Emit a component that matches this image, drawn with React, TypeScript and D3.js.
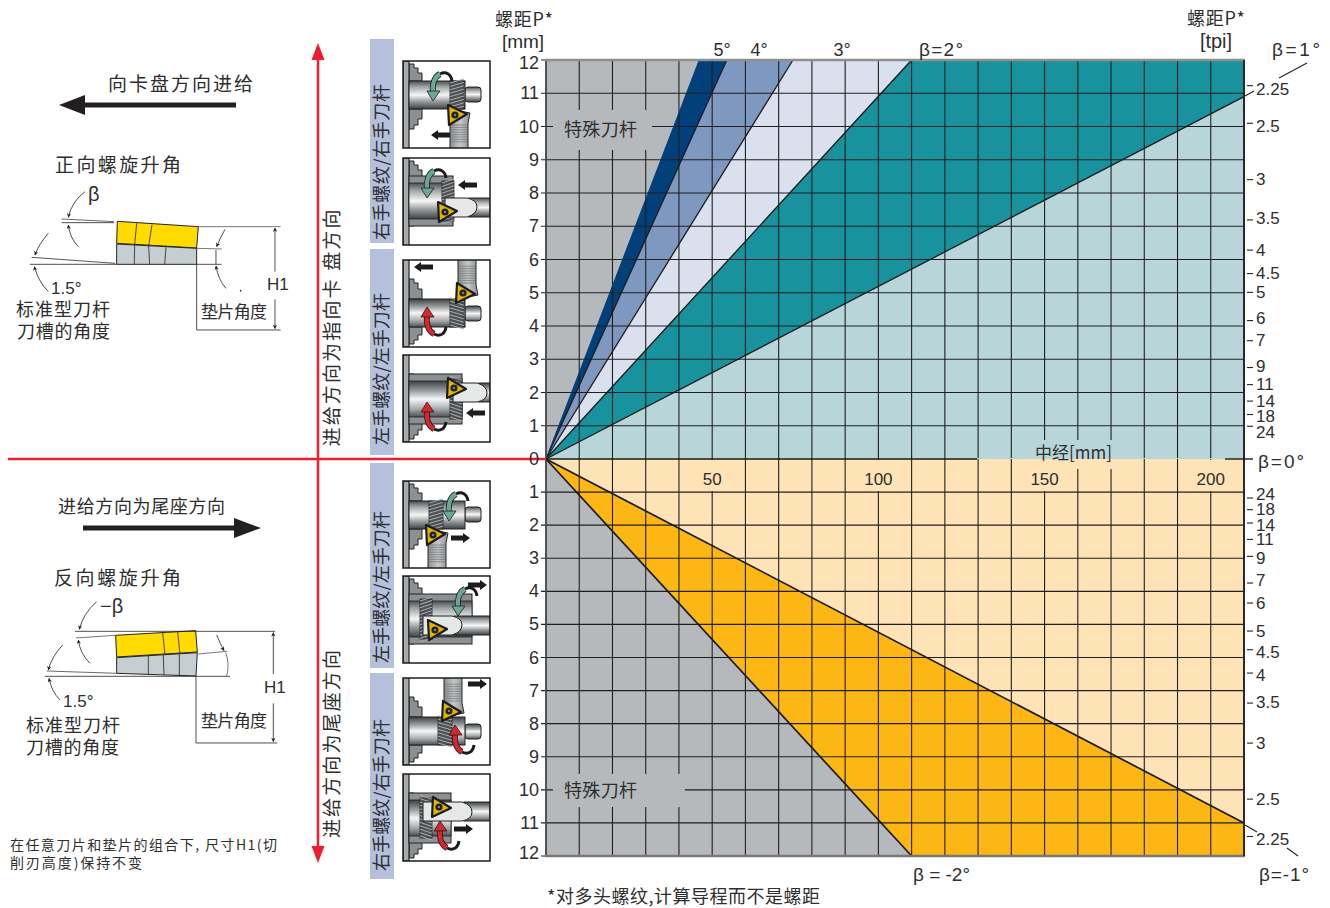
import React from "react";
import * as d3 from "d3";

// chart values
const pitchMm = [1, 2, 3, 4, 5, 6, 7, 8, 9, 10, 11, 12];
const pitchZero = 0;
const diameters = [0, 10, 20, 30, 40, 50, 60, 70, 80, 90, 100, 110, 120, 130, 140, 150, 160, 170, 180, 190, 200, 210];
const diameterLabels = [50, 100, 150, 200];
const tpiValues = [2.25, 2.5, 3, 3.5, 4, 4.5, 5, 6, 7, 9, 11, 14, 18, 24];
const topPitch = 12;
const maxDiameter = 210;
// diameter where each beta boundary reaches the 12 mm pitch
const bandBoundaries = [46.1, 54.4, 74.3, 110];
const bandColors = ["#01407a", "#7f98bf", "#dbe0ee"];
const betaOnePitchUp = 10.9;
const betaMinusTwoDiameter = 110;
const betaMinusOnePitch = 11;
const upperAngleLabels = ["5°", "4°", "3°"];
const sideLabels = ["右手螺纹/右手刀杆", "左手螺纹/左手刀杆", "左手螺纹/左手刀杆", "右手螺纹/右手刀杆"];

const x = d3.scaleLinear().domain([0, 210]).range([546, 1244]);
const yUp = d3.scaleLinear().domain([0, 12]).range([459, 60]);
const yDown = d3.scaleLinear().domain([0, 12]).range([459, 856]);
const tpiUp = d3.scaleLinear().domain([0, 12]).range([461.5, 62]);
const tpiDown = d3.scaleLinear().domain([0, 12]).range([463, 860]);
// labels sit a little off their ticks where they would crowd
const nudgeUp: Record<number, number> = { 24: 6, 18: 2, 9: -1, 6: -2, 3.5: -1, 2.5: 3, 2.25: 4 };
const nudgeDown: Record<number, number> = { 24: -4, 14: 2, 9: 2, 7: -3, 4.5: 3, 4: 2, 3.5: -1, 2.25: 3 };

const CJK = "'Noto Sans CJK SC', 'Liberation Sans', sans-serif";
const LAT = "'Liberation Sans', Arial, sans-serif";
const INK = "#2e2e2e";

type Pt = [number, number];
const upLine = d3.line<Pt>().x((d) => x(d[0])).y((d) => yUp(d[1]));
const downLine = d3.line<Pt>().x((d) => x(d[0])).y((d) => yDown(d[1]));

const T = ({ x: tx, y, s = 18, w, a = "start", f = CJK, rot, children, fill = INK }: any) => (
  <text
    x={tx}
    y={y}
    dy={f === CJK ? -1.8 : 0}
    fontSize={s}
    fontFamily={f}
    fill={fill}
    textAnchor={a}
    dominantBaseline="central"
    textLength={w}
    lengthAdjust={w ? "spacing" : undefined}
    transform={rot ? `rotate(${rot} ${tx} ${y})` : undefined}
  >
    {children}
  </text>
);

const FeedArrow = ({ x0, y0, dir }: { x0: number; y0: number; dir: number }) => {
  // x0 = left end of the arrow in box coords, 19 long
  const pts =
    dir > 0
      ? `${x0},${y0 - 2.5} ${x0 + 12},${y0 - 2.5} ${x0 + 12},${y0 - 5} ${x0 + 19},${y0} ${x0 + 12},${y0 + 5} ${x0 + 12},${y0 + 2.5} ${x0},${y0 + 2.5}`
      : `${x0 + 19},${y0 - 2.5} ${x0 + 7},${y0 - 2.5} ${x0 + 7},${y0 - 5} ${x0},${y0} ${x0 + 7},${y0 + 5} ${x0 + 7},${y0 + 2.5} ${x0 + 19},${y0 + 2.5}`;
  return <polygon points={pts} fill="#1c1c1c" />;
};

const Thread = ({ tx, y0, y1, w = 14 }: any) => {
  const rows = d3.range(y0 + 2, y1 + 3, 3.4);
  return (
    <g>
      <rect x={tx} y={y0} width={w} height={y1 - y0} fill="#4f5254" stroke="#222" strokeWidth={0.8} />
      {rows.map((r) => (
        <line key={r} x1={tx} y1={r} x2={tx + w} y2={r - 4} stroke="#a9acae" strokeWidth={1} />
      ))}
    </g>
  );
};

const Insert = ({ ix, iy }: { ix: number; iy: number }) => (
  <g transform={`translate(${ix} ${iy})`}>
    <polygon points="-8,-10 11,-1 -7,10" fill="#e3b400" stroke="#1c1c1c" strokeWidth={2.2} strokeLinejoin="round" />
    <circle cx={-1} cy={0} r={3.6} fill="#222" />
    <circle cx={-1} cy={0} r={1.1} fill="#999" />
  </g>
);

const RotArrow = ({ rx, color }: { rx: number; color: string }) => (
  <g transform={`translate(${rx} 0)`}>
    <path d="M5 13 C11 10 16 13 17 20" fill="none" stroke="#1c1c1c" strokeWidth={3} />
    <path d="M5 13 C-1 16 -3 24 -2 32" fill="none" stroke="#1c1c1c" strokeWidth={6} />
    <path d="M5 13 C-1 16 -3 24 -2 32" fill="none" stroke={color} strokeWidth={4.4} />
    <polygon points="-8,30 5,30 -2,40" fill={color} stroke="#1c1c1c" strokeWidth={0.8} />
  </g>
);

const Chuck = () => (
  <g>
    <polygon
      points="6,3 11,3 11,7 15,7 15,12 19,12 19,20 6,20"
      fill="#8d9092"
      stroke="#222"
      strokeWidth={1}
    />
    <polygon
      points="6,68 11,68 11,64 15,64 15,58 19,58 19,48 6,48"
      fill="#8d9092"
      stroke="#222"
      strokeWidth={1}
    />
    <rect x={0} y={0} width={6} height={90} fill="#a8abad" stroke="#222" strokeWidth={1.2} />
  </g>
);

const External = ({ tx, ix, rot, rx }: any) => {
  const rows = d3.range(64, 82, 2.4);
  return (
    <g>
      <Chuck />
      <polygon points={`${ix - 6},48 ${ix + 14},52 ${ix + 12},62 ${ix + 12},90 ${ix - 6},90`} fill="url(#hatch)" stroke="#222" strokeWidth={1} />
      {rows.map((r) => (
        <line key={r} x1={ix - 5} x2={ix + 11} y1={r} y2={r} stroke="#6f7274" strokeWidth={0.7} />
      ))}
      <rect x={62} y={26} width={16} height={15} rx={3} fill="url(#steel)" stroke="#222" />
      <rect x={6} y={20} width={56} height={28} fill="url(#steel)" stroke="#222" strokeWidth={1} />
      <Thread tx={tx} y0={20} y1={48} />
      <Insert ix={ix} iy={54} />
      <RotArrow rx={rx} color={rot} />
    </g>
  );
};

const Internal = ({ tx, ix, hr, be, rot, rx }: any) => (
  <g>
    <Chuck />
    <rect x={6} y={18} width={hr - 6} height={50} fill="#8d9092" stroke="#222" strokeWidth={1} />
    <rect x={6} y={25} width={hr - 6} height={36} fill="url(#steel)" stroke="#222" strokeWidth={0.8} />
    <Thread tx={tx} y0={23} y1={63} w={12} />
    <rect x={be - 8} y={40} width={95 - be} height={19} fill="url(#steel)" stroke="#222" strokeWidth={1} />
    <path d={`M${tx + 3} 40 L${be - 10} 40 Q${be} 42 ${be} 49 Q${be} 56 ${be - 10} 59 L${tx + 3} 59 Z`} fill="#e6e7e7" stroke="#222" strokeWidth={1} />
    <Insert ix={ix} iy={54} />
    <RotArrow rx={rx} color={rot} />
  </g>
);

const GREEN = "#6aa893";
const RED = "#d9252c";
const toolBoxes = [
  { bx: 403, by: 61, kind: "ext", flip: false, tx: 47, ix: 53, rot: GREEN, rx: 32, fx: 28, fy: 74, dir: -1 },
  { bx: 403, by: 158, kind: "int", flip: false, tx: 39, ix: 43, hr: 50, be: 74, rot: GREEN, rx: 26, fx: 55, fy: 27, dir: -1 },
  { bx: 403, by: 260, kind: "ext", flip: true, tx: 47, ix: 61, rot: RED, rx: 26, fx: 11, fy: 7, dir: -1 },
  { bx: 403, by: 355, kind: "int", flip: true, tx: 47, ix: 52, hr: 59, be: 84, rot: RED, rx: 26, fx: 63, fy: 58, dir: -1 },
  { bx: 403, by: 481, kind: "ext", flip: false, tx: 26, ix: 31, rot: GREEN, rx: 48, fx: 48, fy: 57, dir: 1 },
  { bx: 403, by: 576, kind: "int", flip: false, tx: 17, ix: 33, hr: 69, be: 59, rot: GREEN, rx: 57, fx: 65, fy: 9, dir: 1 },
  { bx: 403, by: 678, kind: "ext", flip: true, tx: 35, ix: 47, rot: RED, rx: 54, fx: 65, fy: 6, dir: 1 },
  { bx: 403, by: 774, kind: "int", flip: true, tx: 17, ix: 37, hr: 48, be: 69, rot: RED, rx: 39, fx: 51, fy: 55, dir: 1 },
];

const ToolIcon = ({ b }: any) => (
  <g>
    <svg x={b.bx} y={b.by} width={87} height={87} viewBox="0 0 87 87">
      <rect width={87} height={87} fill="#fff" />
      <g transform={b.flip ? "translate(0 87) scale(1 -1)" : undefined}>
        {b.kind === "ext" ? <External {...b} /> : <Internal {...b} />}
      </g>
      <FeedArrow x0={b.fx} y0={b.fy} dir={b.dir} />
    </svg>
    <rect x={b.bx} y={b.by} width={87} height={87} fill="none" stroke="#1c1c1c" strokeWidth={1.5} />
  </g>
);

const Arrowed = ({ d, sw = 2.4 }: { d: string; sw?: number }) => (
  <path d={d} fill="none" stroke="#222" strokeWidth={sw} markerEnd="url(#head)" />
);
const L = ({ p, sw = 2.4, c = "#222" }: { p: string; sw?: number; c?: string }) => (
  <polyline points={p} fill="none" stroke={c} strokeWidth={sw} />
);

// insert sketches are drawn in 3x units and scaled down
const PositiveSketch = () => (
  <g transform="translate(0 140) scale(0.3333)">
    <polygon points="352,244 595,260 590,324 350,310" fill="#ffdb00" stroke="#222" strokeWidth={3} />
    <polygon points="350,312 590,325 590,373 350,373" fill="#c4ced3" stroke="#222" strokeWidth={3} />
    <L p="410,250 404,314" />
    <L p="456,254 446,318" />
    <L p="404,314 403,373" />
    <L p="446,318 449,373" />
    <L p="498,322 494,373" />
    <L p="185,237 342,245" c="#666" sw={3} />
    <L p="185,248 342,248" />
    <L p="95,352 345,370" c="#555" sw={3} />
    <L p="90,373 350,373" />
    <L p="595,260 842,260" c="#555" />
    <L p="590,325 665,327" c="#555" />
    <L p="590,373 665,373" />
    <L p="590,373 590,570 842,570" />
    <Arrowed d="M255 155 Q215 185 205 232" />
    <Arrowed d="M235 320 Q210 295 205 255" />
    <Arrowed d="M145 280 Q115 315 105 345" />
    <Arrowed d="M145 455 Q115 425 103 380" />
    <Arrowed d="M825 395 L825 264" />
    <Arrowed d="M825 478 L825 566" />
    <Arrowed d="M675 268 Q660 295 650 320" />
    <L p="648,330 648,372" />
    <Arrowed d="M678 445 Q655 420 648 378" />
    <circle cx={722} cy={452} r={2.5} fill="#222" />
  </g>
);

const NegativeSketch = () => (
  <g transform="translate(0 560) scale(0.3333)">
    <polygon points="347,226 587,212 592,276 350,291" fill="#ffdb00" stroke="#222" strokeWidth={3} />
    <polygon points="350,293 592,278 588,348 350,340" fill="#c4ced3" stroke="#222" strokeWidth={3} />
    <L p="488,218 495,283" />
    <L p="533,215 540,281" />
    <L p="445,288 445,343" />
    <L p="490,285 492,345" />
    <L p="538,282 538,347" />
    <L p="225,214 825,214" />
    <L p="228,234 345,226" c="#555" />
    <L p="140,333 350,340" c="#444" />
    <L p="135,349 690,349" />
    <L p="595,282 682,274" c="#555" />
    <L p="588,349 588,549 832,549" />
    <Arrowed d="M290 125 Q250 160 238 208" />
    <Arrowed d="M270 310 Q240 280 235 240" />
    <Arrowed d="M188 255 Q155 290 145 330" />
    <Arrowed d="M180 420 Q155 395 147 355" />
    <Arrowed d="M820 342 L820 218" />
    <Arrowed d="M820 430 L820 545" />
    <Arrowed d="M650 225 Q660 250 672 272" />
    <path d="M677 278 Q690 310 680 348" fill="none" stroke="#555" strokeWidth={2.4} />
  </g>
);

export default function App() {
  const apex: Pt = [0, 0];
  const bands = bandColors.map((c, i) => ({
    c,
    pts: [apex, [bandBoundaries[i], topPitch], [bandBoundaries[i + 1], topPitch]] as Pt[],
  }));
  const beta2 = bandBoundaries[3];
  return (
    <svg
      width={1330}
      height={908}
      viewBox="0 0 1330 908"
      style={{ position: "absolute", left: 0, top: 0, display: "block", background: "#fff" }}
    >
      <defs>
        <linearGradient id="steel" x1="0" y1="0" x2="0" y2="1">
          <stop offset="0" stopColor="#4c4f51" />
          <stop offset="0.22" stopColor="#a5a8aa" />
          <stop offset="0.5" stopColor="#f6f6f6" />
          <stop offset="0.72" stopColor="#9da0a2" />
          <stop offset="1" stopColor="#3d4042" />
        </linearGradient>
        <linearGradient id="hatch" x1="0" y1="0" x2="1" y2="0">
          <stop offset="0" stopColor="#8e9193" />
          <stop offset="0.5" stopColor="#c6c9ca" />
          <stop offset="1" stopColor="#8e9193" />
        </linearGradient>
        <marker id="head" viewBox="0 0 10 10" refX="9" refY="5" markerWidth="5.5" markerHeight="5.5" orient="auto">
          <polygon points="0,0 10,5 0,10 3,5" fill="#222" />
        </marker>
      </defs>

      {/* upper half */}
      <rect x={x(0)} y={yUp(12)} width={x(210) - x(0)} height={yUp(0) - yUp(12)} fill="#b8d6da" />
      <path d={upLine([apex, [0, topPitch], [bandBoundaries[0], topPitch]] as Pt[]) + "Z"} fill="#b6b9bc" />
      {bands.map((b) => (
        <path key={b.c} d={upLine(b.pts) + "Z"} fill={b.c} />
      ))}
      <path
        d={upLine([apex, [beta2, topPitch], [maxDiameter, topPitch], [maxDiameter, betaOnePitchUp]] as Pt[]) + "Z"}
        fill="#18939d"
      />

      {/* lower half */}
      <rect x={x(0)} y={yDown(0)} width={x(210) - x(0)} height={yDown(12) - yDown(0)} fill="#fee3b6" />
      <path
        d={downLine([apex, [betaMinusTwoDiameter, topPitch], [maxDiameter, topPitch], [maxDiameter, betaMinusOnePitch]] as Pt[]) + "Z"}
        fill="#fdb714"
      />
      <path d={downLine([apex, [betaMinusTwoDiameter, topPitch], [0, topPitch]] as Pt[]) + "Z"} fill="#b6b9bc" />

      {/* grid */}
      {diameters.map((d) => (
        <line key={d} x1={x(d)} x2={x(d)} y1={yUp(12)} y2={yDown(12)} stroke="#1f1f1f" strokeWidth={1.1} />
      ))}
      {pitchMm.map((p) => (
        <g key={p}>
          <line x1={x(0) - 5} x2={x(210)} y1={yUp(p)} y2={yUp(p)} stroke="#1f1f1f" strokeWidth={1.1} />
          <line x1={x(0) - 5} x2={x(210)} y1={yDown(p)} y2={yDown(p)} stroke="#1f1f1f" strokeWidth={1.1} />
        </g>
      ))}

      {/* label patches that break the grid */}
      <rect x={553} y={110} width={99} height={40} fill="#b6b9bc" />
      <rect x={553} y={774} width={132} height={33} fill="#b6b9bc" />
      <rect x={1030} y={440} width={88} height={19} fill="#b8d6da" />
      <rect x={1030} y={459} width={88} height={10} fill="#fee3b6" />
      <rect x={977} y={458} width={248} height={1} fill="#b8d6da" />
      {diameterLabels.map((d) => (
        <rect key={d} x={x(d) - 14} y={460} width={28} height={31} fill="#fee3b6" />
      ))}

      {/* beta boundary lines */}
      {bandBoundaries.slice(1).map((d) => (
        <path key={d} d={upLine([apex, [d, topPitch]] as Pt[]) ?? ""} stroke="#1a1a1a" strokeWidth={1.3} fill="none" />
      ))}
      <path d={upLine([apex, [bandBoundaries[0], topPitch]] as Pt[]) ?? ""} stroke="#01407a" strokeWidth={1} fill="none" />
      <path d={upLine([apex, [maxDiameter, betaOnePitchUp]] as Pt[]) ?? ""} stroke="#1a1a1a" strokeWidth={1.3} fill="none" />
      <path d={downLine([apex, [betaMinusTwoDiameter, topPitch]] as Pt[]) ?? ""} stroke="#1a1a1a" strokeWidth={1.7} fill="none" />
      <path d={downLine([apex, [maxDiameter, betaMinusOnePitch]] as Pt[]) ?? ""} stroke="#1a1a1a" strokeWidth={1.7} fill="none" />

      {/* frame */}
      <line x1={x(0)} x2={x(0)} y1={yUp(12)} y2={yDown(12)} stroke="#4a4a4a" strokeWidth={1.6} />
      <line x1={x(0) - 1} x2={x(210) + 1} y1={yUp(12)} y2={yUp(12)} stroke="#8f8f8f" strokeWidth={2.4} />
      <line x1={x(0) - 1} x2={x(210) + 1} y1={yDown(12)} y2={yDown(12)} stroke="#777" strokeWidth={2.4} />
      <line x1={x(210)} x2={x(210)} y1={yUp(12)} y2={yDown(12)} stroke="#2a2a2a" strokeWidth={2} />
      <line x1={x(0)} x2={977} y1={yUp(pitchZero)} y2={yUp(pitchZero)} stroke="#1a1a1a" strokeWidth={1.4} />
      <line x1={1225} x2={1253} y1={yUp(pitchZero)} y2={yUp(pitchZero)} stroke="#1a1a1a" strokeWidth={1.4} />

      {/* red axes */}
      <line x1={8} x2={546} y1={459} y2={459} stroke="#ed1c2e" strokeWidth={2.5} />
      <line x1={318} x2={318} y1={50} y2={856} stroke="#ed1c2e" strokeWidth={2.5} />
      <polygon points="318,43 311.5,60 324.5,60" fill="#ed1c2e" />
      <polygon points="318,863 311.5,846 324.5,846" fill="#ed1c2e" />

      {/* left pitch axis */}
      {pitchMm.map((p) => (
        <g key={p}>
          <T x={539} y={yUp(p) + (p === 12 ? 3 : 0)} a="end" f={LAT}>{p}</T>
          <T x={539} y={yDown(p) + (p === 12 ? -3 : 0)} a="end" f={LAT}>{p}</T>
        </g>
      ))}
      <T x={539} y={yUp(pitchZero)} a="end" f={LAT}>{pitchZero}</T>

      {/* right tpi axis */}
      {tpiValues.map((t) => (
        <g key={t}>
          <line x1={1247} x2={1253} y1={tpiUp(25.4 / t)} y2={tpiUp(25.4 / t)} stroke="#222" strokeWidth={1.1} />
          <line x1={1247} x2={1253} y1={tpiDown(25.4 / t)} y2={tpiDown(25.4 / t)} stroke="#222" strokeWidth={1.1} />
          <T x={1256} y={tpiUp(25.4 / t) + (nudgeUp[t] ?? 0)} s={17} f={LAT}>{t}</T>
          <T x={1256} y={tpiDown(25.4 / t) + (nudgeDown[t] ?? 0)} s={17} f={LAT}>{t}</T>
        </g>
      ))}

      {/* x labels */}
      {diameterLabels.map((d) => (
        <T key={d} x={x(d)} y={479} a="middle" s={17} f={LAT}>{d}</T>
      ))}
      <T x={1035} y={453} w={77} s={17}>中经[mm]</T>

      {/* chart captions */}
      <T x={524} y={20} a="middle" s={18} w={58}>螺距P*</T>
      <T x={523} y={41} a="middle" s={19} f={LAT}>[mm]</T>
      <T x={1216} y={19} a="middle" s={18} w={58}>螺距P*</T>
      <T x={1216} y={41} a="middle" s={20} f={LAT}>[tpi]</T>
      {upperAngleLabels.map((l, i) => (
        <T key={l} x={[722, 759, 842][i]} y={50} a="middle" s={18} f={LAT}>{l}</T>
      ))}
      <T x={564} y={130} w={73} s={18}>特殊刀杆</T>
      <T x={564} y={791} w={73} s={18}>特殊刀杆</T>
      <T x={919} y={49} s={19} f={LAT} w={44}>β=2°</T>
      <T x={1272} y={49} s={19} f={LAT} w={48}>β=1°</T>
      <T x={1258} y={461} s={19} f={LAT} w={46}>β=0°</T>
      <T x={913} y={874} s={19} f={LAT} w={57}>β = -2°</T>
      <T x={1259} y={874} s={19} f={LAT} w={50}>β=-1°</T>
      <L p="1279,78 1307,63" sw={1.1} />
      <L p="1245,96 1254,91" sw={1.1} />
      <L p="1245,825 1257,832" sw={1.1} />
      <L p="1287,848 1298,856" sw={1.1} />
      <T x={547} y={897} s={18} w={273}>*对多头螺纹,计算导程而不是螺距</T>

      {/* side bands and tool sketches */}
      {[[39, 204, 162], [249, 206, 369], [463, 205, 587], [673, 206, 795]].map(([by, bh, cy], i) => (
        <g key={by}>
          <rect x={370} y={by} width={24} height={bh} fill="#b5c1dc" />
          <T x={382} y={cy} a="middle" rot={-90} s={18} w={i === 0 ? 156 : 152}>
            {sideLabels[i]}
          </T>
        </g>
      ))}
      {toolBoxes.map((b) => (
        <ToolIcon key={b.by} b={b} />
      ))}

      {/* direction labels along the red axis */}
      <T x={332} y={328} a="middle" rot={-90} s={19} w={237}>进给方向为指向卡 盘方向</T>
      <T x={332} y={744} a="middle" rot={-90} s={19} w={188}>进给方向为尾座方向</T>

      {/* feed arrows */}
      <polygon points="59,105 85,95 85,102.5 236,102.5 236,107.5 85,107.5 85,115" fill="#231f20" />
      <polygon points="83,525.5 234,525.5 234,518 261,528 234,538 234,530.5 83,530.5" fill="#231f20" />
      <T x={108} y={84} s={19} w={145}>向卡盘方向进给</T>
      <T x={58} y={507} s={18} w={167}>进给方向为尾座方向</T>

      {/* helix sketches */}
      <PositiveSketch />
      <T x={55} y={165} s={19} w={126}>正向螺旋升角</T>
      <T x={88} y={194} s={20} f={LAT}>β</T>
      <T x={51} y={288} s={17} f={LAT}>1.5°</T>
      <T x={16} y={310} s={18} w={94}>标准型刀杆</T>
      <T x={17} y={332} s={18} w={93}>刀槽的角度</T>
      <T x={201} y={312} s={17} w={66}>垫片角度</T>
      <T x={267} y={284} s={17} f={LAT}>H1</T>

      <NegativeSketch />
      <T x={54} y={578} s={19} w={127}>反向螺旋升角</T>
      <T x={100} y={606} s={20} f={LAT}>−β</T>
      <T x={63} y={701} s={17} f={LAT}>1.5°</T>
      <T x={26} y={726} s={18} w={94}>标准型刀杆</T>
      <T x={26} y={748} s={18} w={93}>刀槽的角度</T>
      <T x={201} y={721} s={17} w={66}>垫片角度</T>
      <T x={264} y={687} s={17} f={LAT}>H1</T>

      <T x={10} y={846} s={14} w={267}>在任意刀片和垫片的组合下, 尺寸H1(切</T>
      <T x={10} y={864} s={14} w={132}>削刃高度)保持不变</T>
    </svg>
  );
}
